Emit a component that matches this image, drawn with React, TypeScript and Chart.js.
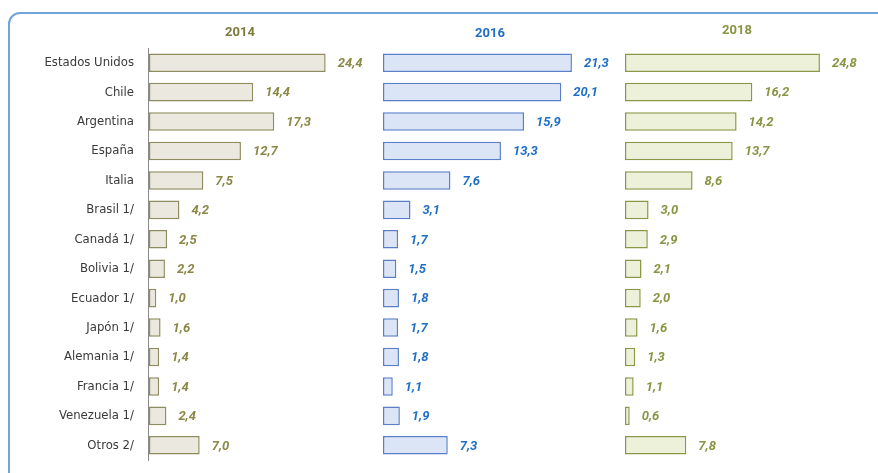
import React, { useEffect, useRef } from "react";
import { Chart, registerables } from "chart.js";

Chart.register(...registerables);

const CATEGORIES = [
  "Estados Unidos",
  "Chile",
  "Argentina",
  "España",
  "Italia",
  "Brasil 1/",
  "Canadá 1/",
  "Bolivia 1/",
  "Ecuador 1/",
  "Japón 1/",
  "Alemania 1/",
  "Francia 1/",
  "Venezuela 1/",
  "Otros 2/",
];

const YEARS = ["2014", "2016", "2018"];

const VALUES_2014 = [24.4, 14.4, 17.3, 12.7, 7.5, 4.2, 2.5, 2.2, 1.0, 1.6, 1.4, 1.4, 2.4, 7.0];
const VALUES_2016 = [21.3, 20.1, 15.9, 13.3, 7.6, 3.1, 1.7, 1.5, 1.8, 1.7, 1.8, 1.1, 1.9, 7.3];
const VALUES_2018 = [24.8, 16.2, 14.2, 13.7, 8.6, 3.0, 2.9, 2.1, 2.0, 1.6, 1.3, 1.1, 0.6, 7.8];

// Styling / layout (kept apart from the data)
const W = 878;
const H = 473;
const PLOT_LEFT = 148;
const PLOT_RIGHT = 870;
const PANELS = [
  { zero: 149, ppu: 7.24, fill: "#ebe9df", border: "#8e8c5e", text: "#8a8846", title: "#7b7a3c", titleX: 240, titleY: 33 },
  { zero: 383, ppu: 8.87, fill: "#dbe5f5", border: "#5a7fc8", text: "#1f6fc6", title: "#1f6fc6", titleX: 490, titleY: 34 },
  { zero: 625, ppu: 7.86, fill: "#eef1da", border: "#8a9846", text: "#8a9442", title: "#8a9442", titleX: 737, titleY: 31 },
];
const LABEL_FONT = "'Liberation Sans Narrow', 'Arial Narrow', 'DejaVu Sans Condensed', 'Liberation Sans', sans-serif";
const VALUE_FONT = "Roboto, 'Liberation Sans', sans-serif";

const SERIES = [VALUES_2014, VALUES_2016, VALUES_2018];

const valueLabelPlugin = {
  id: "valueLabels",
  afterDatasetsDraw(chart: any) {
    const ctx = chart.ctx;
    ctx.save();
    ctx.font = `italic bold 13px ${VALUE_FONT}`;
    ctx.textBaseline = "middle";
    ctx.textAlign = "left";
    chart.data.datasets.forEach((ds: any, di: number) => {
      const meta = chart.getDatasetMeta(di);
      ctx.fillStyle = PANELS[di].text;
      meta.data.forEach((el: any, i: number) => {
        const v = ds.data[i] as number;
        ctx.fillText(v.toFixed(1).replace(".", ","), el.x + 12, el.y + 1);
      });
    });
    // panel titles
    ctx.font = `bold 13px ${VALUE_FONT}`;
    ctx.textAlign = "center";
    YEARS.forEach((y, i) => {
      ctx.fillStyle = PANELS[i].title;
      ctx.fillText(y, PANELS[i].titleX, PANELS[i].titleY);
    });
    ctx.restore();
  },
};

export default function App() {
  const canvasRef = useRef<HTMLCanvasElement | null>(null);

  useEffect(() => {
    if (!canvasRef.current) return;
    const scales: any = {
      y: {
        type: "category",
        labels: CATEGORIES,
        offset: true,
        grid: { display: false, drawTicks: false },
        border: { display: true, color: "#8a8a8a", width: 1 },
        ticks: {
          color: "#3a3a3a",
          padding: 14,
          font: { family: LABEL_FONT, size: 13 },
        },
        afterFit(scale: any) {
          scale.width = PLOT_LEFT;
          scale.paddingTop = 0;
          scale.paddingBottom = 0;
        },
      },
    };
    PANELS.forEach((p, i) => {
      scales["x" + i] = {
        type: "linear",
        display: false,
        min: -(p.zero - PLOT_LEFT) / p.ppu,
        max: (PLOT_RIGHT - p.zero) / p.ppu,
      };
    });

    const chart = new Chart(canvasRef.current, {
      type: "bar",
      data: {
        labels: CATEGORIES,
        datasets: SERIES.map((data, i) => ({
          label: YEARS[i],
          data,
          xAxisID: "x" + i,
          yAxisID: "y",
          grouped: false,
          backgroundColor: PANELS[i].fill,
          borderColor: PANELS[i].border,
          borderWidth: 1.5,
          borderSkipped: false,
          barPercentage: 0.63,
          categoryPercentage: 1,
        })),
      } as any,
      options: {
        indexAxis: "y",
        responsive: false,
        animation: false,
        devicePixelRatio: 1,
        layout: { padding: { left: 0, right: W - PLOT_RIGHT, top: 48, bottom: 13 } },
        plugins: {
          legend: { display: false },
          tooltip: { enabled: false },
        },
        scales,
      } as any,
      plugins: [valueLabelPlugin],
    });
    return () => chart.destroy();
  }, []);

  return (
    <div
      style={{
        position: "fixed",
        left: 0,
        top: 0,
        width: W,
        height: H,
        overflow: "hidden",
        background: "#ffffff",
      }}
    >
      <div
        style={{
          position: "absolute",
          left: 8,
          top: 12,
          width: 900,
          height: 500,
          border: "2px solid #6fa3da",
          borderRadius: 12,
          boxSizing: "border-box",
        }}
      />
      <canvas
        ref={canvasRef}
        width={W}
        height={H}
        style={{ position: "absolute", left: 0, top: 0, width: W, height: H }}
      />
    </div>
  );
}
